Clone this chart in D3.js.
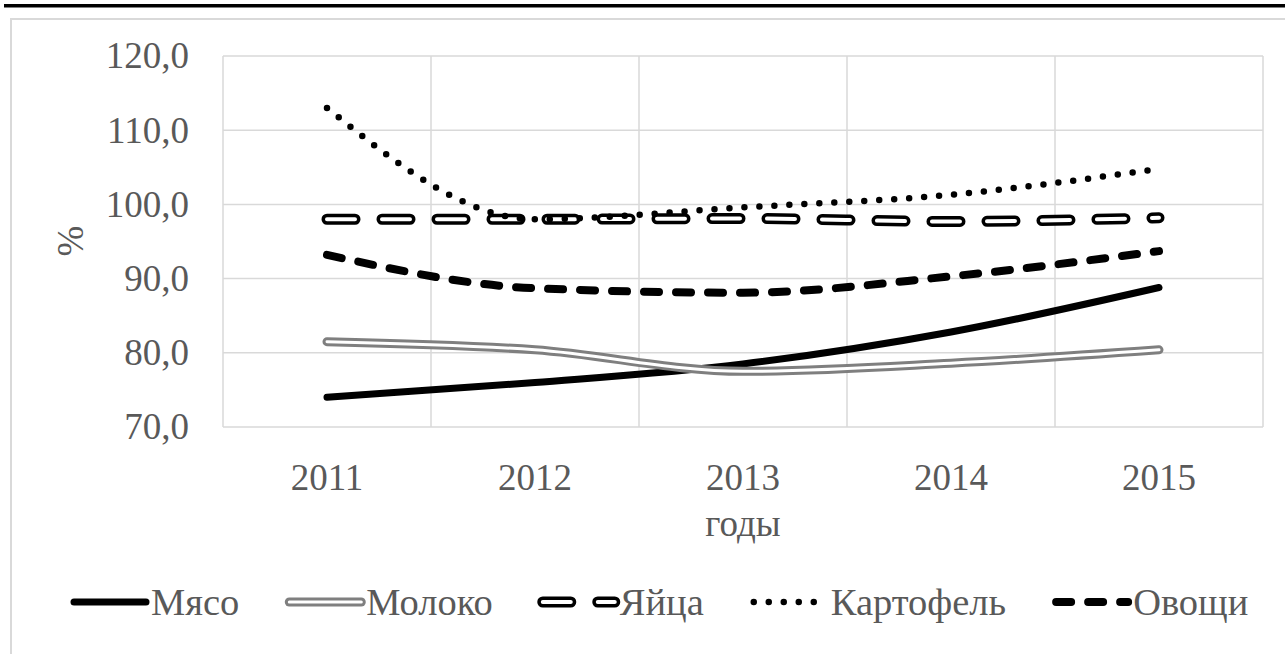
<!DOCTYPE html>
<html>
<head>
<meta charset="utf-8">
<script src="https://cdn.jsdelivr.net/npm/d3@7"></script>
<style>
  body { margin: 0; background: #fff; }
  svg text { font-family: "Liberation Serif", Tinos, "Times New Roman", "DejaVu Serif", serif !important; fill: #595959; }
</style>
</head>
<body>
<div id="chart"></div>
<script>
// ===== datos =====
const years = ["2011", "2012", "2013", "2014", "2015"];
const meat = [74.0, 76.0, 78.5, 82.8, 88.8];
const milk = [81.5, 80.4, 77.5, 78.6, 80.4];
const eggs = [98.0, 98.0, 98.1, 97.7, 98.2];
const potato = [113.0, 98.0, 99.6, 101.3, 104.8];
const veg = [93.2, 88.7, 88.1, 90.3, 93.7];
const yTicks = [70, 80, 90, 100, 110, 120];

const series = [
  { name: "Мясо", values: meat, style: "solid" },
  { name: "Молоко", values: milk, style: "double" },
  { name: "Яйца", values: eggs, style: "dashdouble" },
  { name: "Картофель", values: potato, style: "dot" },
  { name: "Овощи", values: veg, style: "dash" }
];

const width = 1285;
const height = 654;
const margin = { top: 56, right: 22, bottom: 227, left: 223 };

const svg = d3.select("#chart")
  .append("svg")
  .attr("width", width)
  .attr("height", height);

// barra negra superior y borde del gráfico
svg.append("rect")
  .attr("x", 4).attr("y", 4)
  .attr("width", width).attr("height", 3.5)
  .attr("fill", "#000");

svg.append("rect")
  .attr("x", 11).attr("y", 19)
  .attr("width", width + 40).attr("height", height)
  .attr("fill", "none")
  .attr("stroke", "#d9d9d9")
  .attr("stroke-width", 2);

const x = d3.scaleBand()
  .domain(years)
  .range([margin.left, width - margin.right])
  .padding(0);

const y = d3.scaleLinear()
  .domain([70, 120])
  .range([height - margin.bottom, margin.top]);

// rejilla
svg.append("g")
  .selectAll("line")
  .data(yTicks)
  .enter()
  .append("line")
  .attr("x1", margin.left)
  .attr("x2", width - margin.right)
  .attr("y1", d => y(d))
  .attr("y2", d => y(d))
  .attr("stroke", "#d9d9d9")
  .attr("stroke-width", 1.5);

const edges = years.map(d => x(d)).concat([x(years[years.length - 1]) + x.bandwidth()]);
svg.append("g")
  .selectAll("line")
  .data(edges)
  .enter()
  .append("line")
  .attr("x1", d => d)
  .attr("x2", d => d)
  .attr("y1", y(120))
  .attr("y2", y(70))
  .attr("stroke", "#d9d9d9")
  .attr("stroke-width", 1.5);

// ejes
const yAxis = svg.append("g")
  .attr("transform", `translate(${margin.left - 34},0)`)
  .call(d3.axisLeft(y).tickValues(yTicks).tickSize(0).tickFormat(d => d3.format(".1f")(d).replace(".", ",")));
yAxis.attr("font-family", null);
yAxis.select(".domain").remove();
yAxis.selectAll("text")
  .attr("x", 0)
  .style("font-size", "37px")
  .attr("fill", "#595959");

const xAxis = svg.append("g")
  .attr("transform", `translate(0,${height - margin.bottom})`)
  .call(d3.axisBottom(x).tickSize(0));
xAxis.attr("font-family", null);
xAxis.select(".domain").remove();
xAxis.selectAll("text")
  .attr("y", 0)
  .attr("dy", "63")
  .style("font-size", "37px")
  .attr("fill", "#595959");

svg.append("text")
  .attr("transform", "rotate(-90)")
  .attr("x", -241)
  .attr("y", 83)
  .attr("text-anchor", "middle")
  .style("font-size", "37px")
  .text("%");

svg.append("text")
  .attr("x", (margin.left + width - margin.right) / 2)
  .attr("y", 536)
  .attr("text-anchor", "middle")
  .style("font-size", "37px")
  .text("годы");

// estilos de línea
function drawStyled(g, d, style) {
  if (style === "solid") {
    g.append("path").attr("d", d).attr("fill", "none").attr("stroke", "#000")
      .attr("stroke-width", 7).attr("stroke-linecap", "round").attr("stroke-linejoin", "round");
  } else if (style === "double") {
    g.append("path").attr("d", d).attr("fill", "none").attr("stroke", "#7f7f7f")
      .attr("stroke-width", 9).attr("stroke-linecap", "round").attr("stroke-linejoin", "round");
    g.append("path").attr("d", d).attr("fill", "none").attr("stroke", "#fff")
      .attr("stroke-width", 3).attr("stroke-linecap", "round").attr("stroke-linejoin", "round");
  } else if (style === "dashdouble") {
    g.append("path").attr("d", d).attr("fill", "none").attr("stroke", "#000")
      .attr("stroke-width", 11).attr("stroke-linecap", "round").attr("stroke-dasharray", "28 27");
    g.append("path").attr("d", d).attr("fill", "none").attr("stroke", "#fff")
      .attr("stroke-width", 4).attr("stroke-linecap", "round").attr("stroke-dasharray", "28 27");
  } else if (style === "dot") {
    g.append("path").attr("d", d).attr("fill", "none").attr("stroke", "#000")
      .attr("stroke-width", 6.5).attr("stroke-linecap", "round").attr("stroke-dasharray", "0 15");
  } else if (style === "dash") {
    g.append("path").attr("d", d).attr("fill", "none").attr("stroke", "#000")
      .attr("stroke-width", 8).attr("stroke-linecap", "round").attr("stroke-dasharray", "15 17");
  }
}

const line = d3.line()
  .x((v, i) => x(years[i]) + x.bandwidth() / 2)
  .y(v => y(v))
  .curve(d3.curveMonotoneX);

const drawOrder = ["Мясо", "Молоко", "Яйца", "Картофель", "Овощи"];
drawOrder.forEach(n => {
  const s = series.find(e => e.name === n);
  drawStyled(svg.append("g"), line(s.values), s.style);
});

// leyenda
const legend = svg.append("g").attr("transform", "translate(70,602)");
let lx = 0;
series.forEach(s => {
  const item = legend.append("g").attr("transform", `translate(${lx},0)`);
  drawStyled(item, "M4,0L76,0", s.style);
  const t = item.append("text")
    .attr("x", 81)
    .attr("y", 0)
    .attr("dy", "0.35em")
    .style("font-size", "38.5px")
    .text(s.name);
  lx += 81 + t.node().getComputedTextLength() + 46;
});
</script>
</body>
</html>
